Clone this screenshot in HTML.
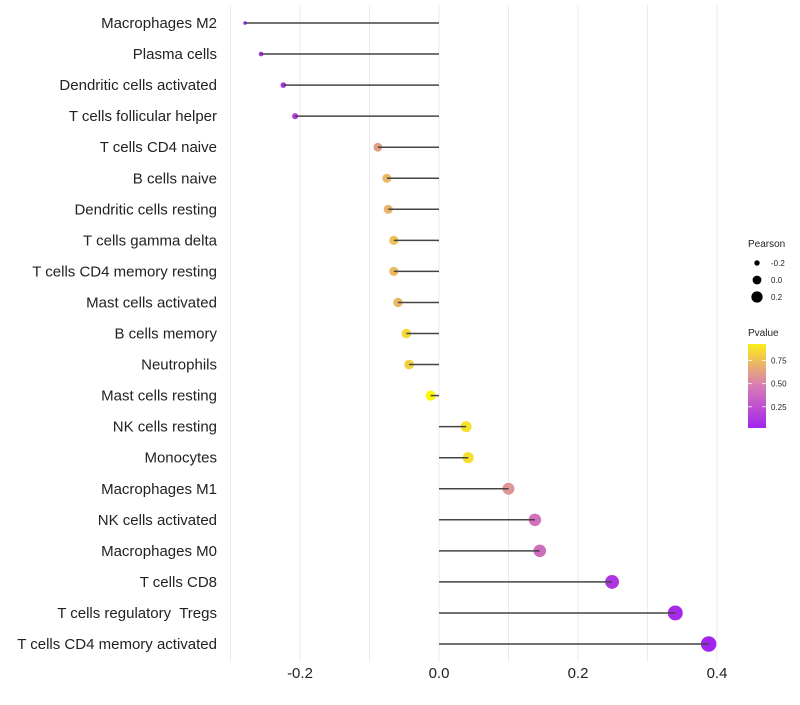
<!DOCTYPE html>
<html><head><meta charset="utf-8"><style>
body{margin:0;background:#fff;width:800px;height:700px;overflow:hidden}
svg text{font-family:"Liberation Sans",sans-serif;white-space:pre}
</style></head><body>
<svg id="chart" width="800" height="700"></svg>
<script>
const categories=["Macrophages M2","Plasma cells","Dendritic cells activated","T cells follicular helper","T cells CD4 naive","B cells naive","Dendritic cells resting","T cells gamma delta","T cells CD4 memory resting","Mast cells activated","B cells memory","Neutrophils","Mast cells resting","NK cells resting","Monocytes","Macrophages M1","NK cells activated","Macrophages M0","T cells CD8","T cells regulatory  Tregs","T cells CD4 memory activated"];
const pearson=[-0.279,-0.256,-0.224,-0.207,-0.088,-0.075,-0.073,-0.065,-0.065,-0.059,-0.047,-0.043,-0.012,0.039,0.042,0.100,0.138,0.145,0.249,0.340,0.388];
const pvalue=[0.02,0.05,0.10,0.15,0.62,0.72,0.70,0.75,0.73,0.72,0.85,0.82,0.97,0.88,0.87,0.58,0.42,0.40,0.12,0.05,0.02];
const xTicks=[-0.2,0.0,0.2,0.4];
const xTickLabels=["-0.2","0.0","0.2","0.4"];
const xGrid=[-0.3,-0.2,-0.1,0,0.1,0.2,0.3,0.4];
const sizeLegend=[-0.2,0.0,0.2];
const colorTicks=[0.25,0.5,0.75];

const NS="http://www.w3.org/2000/svg";
const svg=document.getElementById('chart');
function mk(t,a,p){const e=document.createElementNS(NS,t);for(const k in a)e.setAttribute(k,a[k]);(p||svg).appendChild(e);return e;}
const xS=v=>439+v*695;
const yS=i=>23+i*31.05;
const rS=v=>Math.sqrt(Math.max(2,27+85*v));
function lerp(a,b,t){return a.map((x,i)=>Math.round(x+(b[i]-x)*t));}
function col(p){const c0=[160,32,240],c1=[218,128,178],c2=[255,255,0];
 const c=p<0.5?lerp(c0,c1,p/0.5):lerp(c1,c2,(p-0.5)/0.5);return `rgb(${c})`;}

xGrid.forEach(v=>{const g=mk('line',{x1:xS(v),x2:xS(v),y1:5,y2:662,stroke:'#ebebeb','stroke-width':1});

});

xTicks.forEach((v,i)=>{const t=mk('text',{x:xS(v),y:678,'text-anchor':'middle','font-size':15,fill:'#222'});t.textContent=xTickLabels[i];

});

categories.forEach((c,i)=>{
 const t=mk('text',{x:217,y:yS(i)+5,'text-anchor':'end','font-size':15,fill:'#222'});t.textContent=c;
 
 
 const d=mk('circle',{cx:xS(pearson[i]),cy:yS(i),r:rS(pearson[i]),fill:col(pvalue[i])});
 
 
 const l=mk('line',{x1:xS(0),x2:xS(pearson[i]),y1:yS(i),y2:yS(i),stroke:'#444','stroke-width':1.5});
 
 
});

// legends
const lt=mk('text',{x:748,y:247,'font-size':10,fill:'#222'});lt.textContent='Pearson';


sizeLegend.forEach((v,i)=>{const y=263+i*17;
 const c=mk('circle',{cx:757,cy:y,r:rS(v)*0.85,fill:'#000'});
 
 
 const t=mk('text',{x:771,y:y+3,'font-size':8,fill:'#222'});t.textContent=(v<0?'-':'')+Math.abs(v).toFixed(1);
 
 });
const pt=mk('text',{x:748,y:336,'font-size':10,fill:'#222'});pt.textContent='Pvalue';


const defs=mk('defs',{});const gr=mk('linearGradient',{id:'pg',x1:0,y1:1,x2:0,y2:0},defs);
[0,0.25,0.5,0.75,1].forEach(s=>{const p=0.02+s*0.91;mk('stop',{offset:s,'stop-color':col(p)},gr);});
const bar=mk('rect',{x:748,y:344,width:18,height:84,fill:'url(#pg)'});


const cy=p=>428-(p-0.02)/0.91*84;
colorTicks.forEach(p=>{
 mk('line',{x1:748,x2:752,y1:cy(p),y2:cy(p),stroke:'#fff','stroke-width':0.8});
 mk('line',{x1:762,x2:766,y1:cy(p),y2:cy(p),stroke:'#fff','stroke-width':0.8});
 const t=mk('text',{x:771,y:cy(p)+3,'font-size':8,fill:'#222'});t.textContent=p.toFixed(2);
 
 });
</script>
</body></html>
